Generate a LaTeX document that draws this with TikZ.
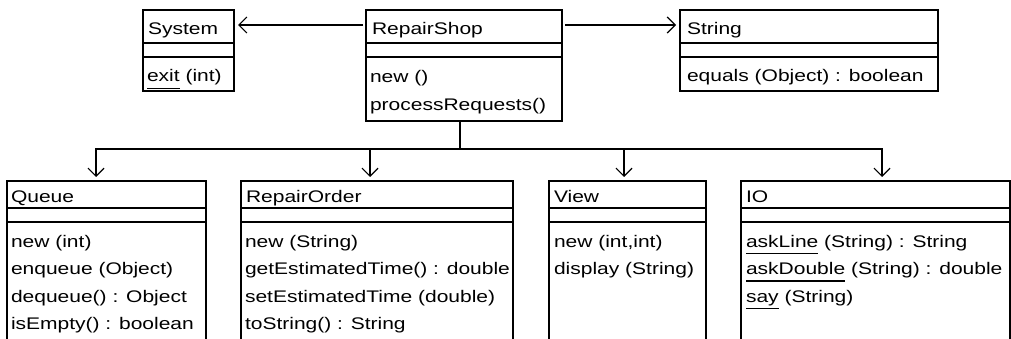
\documentclass[tikz,border=0pt]{standalone}
\usepackage{fontspec}
\newfontfamily\umlfont[FakeStretch=1.25]{Liberation Sans}
\usetikzlibrary{arrows.meta}
\newsavebox\umlulbox
\newcommand\umlul[1]{\sbox\umlulbox{#1}\rlap{\rule[-7pt]{\wd\umlulbox}{1.2pt}}\usebox\umlulbox}
\begin{document}
\begin{tikzpicture}[x=1pt,y=-1pt,
  cls/.style={draw=black, line width=1.2pt, anchor=north west, inner sep=0pt, outer sep=0pt},
  txt/.style={anchor=base west, inner sep=0pt, outer sep=0pt, font=\umlfont\fontsize{16.8pt}{20pt}\selectfont},
  sep/.style={line width=1.2pt},
  wire/.style={line width=1.2pt},
  dep/.style={line width=1.2pt, -{Straight Barb[length=8pt,width=16pt,line width=1.2pt]}, shorten >=4pt}]
\path[use as bounding box, clip] (0,0) rectangle (1011,339);
\fill[white] (0,0) rectangle (1011,339);
% top row
\node[cls, minimum width=91pt, minimum height=81pt] (sys) at (143,10) {};
\node[cls, minimum width=196pt, minimum height=111pt] (rs) at (366,10) {};
\node[cls, minimum width=258pt, minimum height=81pt] (str) at (680,10) {};
\foreach \b in {sys,rs,str}{
  \draw[sep] ([yshift=-33pt]\b.north west) -- ([yshift=-33pt]\b.north east);
  \draw[sep] ([yshift=-47pt]\b.north west) -- ([yshift=-47pt]\b.north east);
}
% bottom row
\node[cls, minimum width=199pt, minimum height=180pt] (q) at (7,181) {};
\node[cls, minimum width=272pt, minimum height=180pt] (ro) at (241,181) {};
\node[cls, minimum width=157pt, minimum height=180pt] (v) at (549,181) {};
\node[cls, minimum width=269pt, minimum height=180pt] (io) at (741,181) {};
\foreach \b in {q,ro,v,io}{
  \draw[sep] ([yshift=-27pt]\b.north west) -- ([yshift=-27pt]\b.north east);
  \draw[sep] ([yshift=-41pt]\b.north west) -- ([yshift=-41pt]\b.north east);
}
% texts top
\node[txt] (sysT) at (148,35) {System};
\node[txt] (sysO1) at (147,82) {\umlul{exit} (int)};
\node[txt] (rsT) at (372,35) {RepairShop};
\node[txt] (rsO1) at (370,83) {new ()};
\node[txt] (rsO2) at (370,110.5) {processRequests()};
\node[txt] (strT) at (687,35) {String};
\node[txt] (strO1) at (687,82) {equals (Object) : boolean};
% texts bottom
\node[txt] (qT) at (11,202) {Queue};
\node[txt] (qO1) at (11,247) {new (int)};
\node[txt] (qO2) at (11,274.5) {enqueue (Object)};
\node[txt] (qO3) at (11,302) {dequeue() : Object};
\node[txt] (qO4) at (11,329.5) {isEmpty() : boolean};
\node[txt] (roT) at (246,202) {RepairOrder};
\node[txt] (roO1) at (245,247) {new (String)};
\node[txt] (roO2) at (245,274.5) {getEstimatedTime() : double};
\node[txt] (roO3) at (245,302) {setEstimatedTime (double)};
\node[txt] (roO4) at (245,329.5) {toString() : String};
\node[txt] (vT) at (554,202) {View};
\node[txt] (vO1) at (554,247) {new (int,int)};
\node[txt] (vO2) at (554,274.5) {display (String)};
\node[txt] (ioT) at (746,202) {IO};
\node[txt] (ioO1) at (746,247) {\umlul{askLine} (String) : String};
\node[txt] (ioO2) at (746,274.5) {\umlul{askDouble} (String) : double};
\node[txt] (ioO3) at (746,302) {\umlul{say} (String)};
% connectors
\draw[dep, shorten <=3pt] ([yshift=-15pt]rs.north west) -- ([yshift=-15pt]sys.north east);
\draw[dep, shorten <=3pt] ([yshift=-15pt]rs.north east) -- ([yshift=-15pt]str.north west);
\coordinate (stem) at (460,149);
\coordinate (busL) at (96,149);
\coordinate (b2) at (370,149);
\coordinate (b3) at (624,149);
\coordinate (busR) at (882,149);
\draw[wire] (stem |- rs.south) -- (stem);
\draw[dep] (stem) -- (busL) -- (busL |- q.north);
\draw[dep] (stem) -- (busR) -- (busR |- io.north);
\draw[dep] (b2) -- (b2 |- ro.north);
\draw[dep] (b3) -- (b3 |- v.north);
\end{tikzpicture}
\end{document}
